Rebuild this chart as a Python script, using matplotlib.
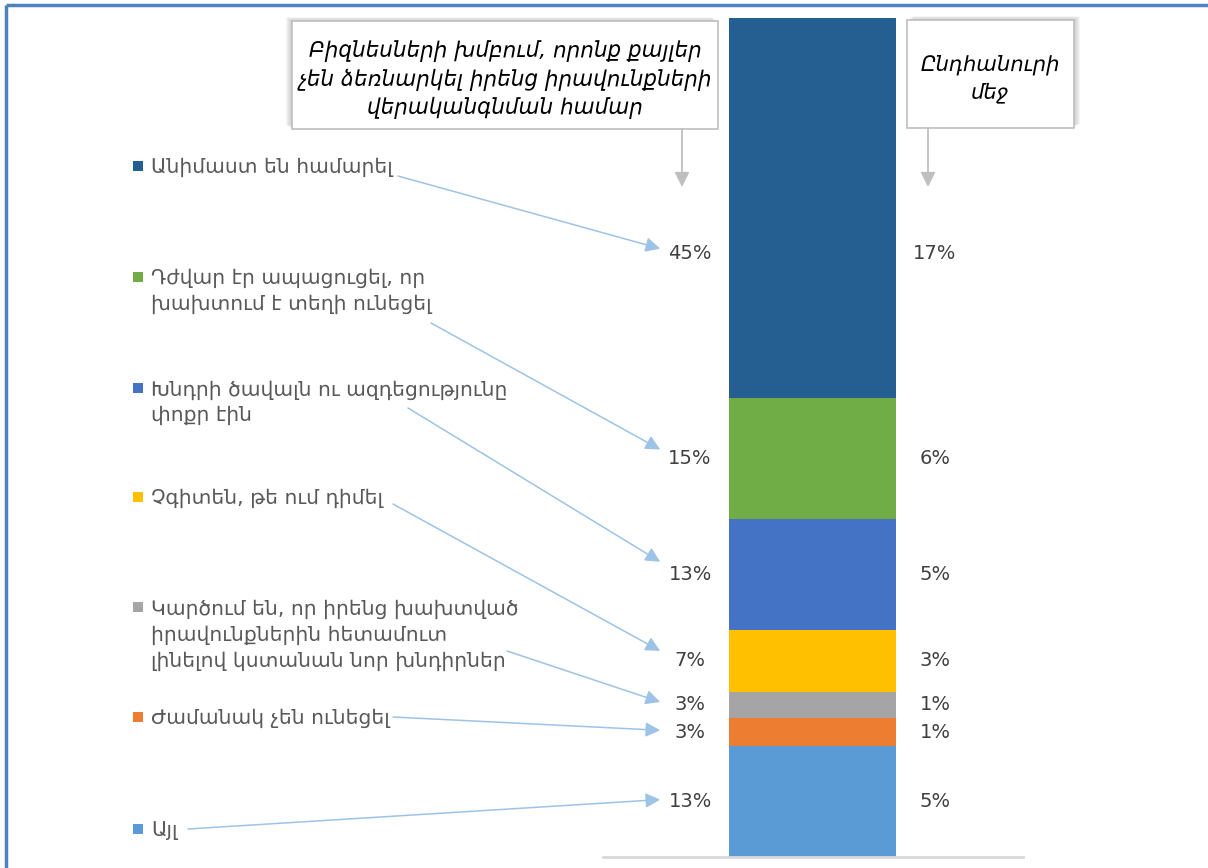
import matplotlib.pyplot as plt
from matplotlib.patches import Rectangle

plt.rcParams['font.family'] = ['DejaVu Sans']

# categories, listed top of the bar to bottom
reasons = [
    "Անիմաստ են համարել",
    "Դժվար էր ապացուցել, որ\nխախտում է տեղի ունեցել",
    "Խնդրի ծավալն ու ազդեցությունը\nփոքր էին",
    "Չգիտեն, թե ում դիմել",
    "Կարծում են, որ իրենց խախտված\nիրավունքներին հետամուտ\nլինելով կստանան նոր խնդիրներ",
    "Ժամանակ չեն ունեցել",
    "Այլ",
]
bar_share = [45.2, 14.5, 13.2, 7.3, 3.2, 3.3, 13.2]   # segment heights
pct_firms = [45, 15, 13, 7, 3, 3, 13]                 # left labels
pct_total = [17, 6, 5, 3, 1, 1, 5]                    # right labels
colors = ['#255E91', '#70AD47', '#4472C4', '#FFC000', '#A5A5A5', '#ED7D31', '#5B9BD5']

header_left = "Բիզնեսների խմբում, որոնք քայլեր\nչեն ձեռնարկել իրենց իրավունքների\nվերականգնման համար"
header_right = "Ընդհանուրի\nմեջ"

W, H = 1208, 868
fig = plt.figure(figsize=(W / 100, H / 100), dpi=100)

# the bar axes
ax = fig.add_axes([603 / W, 11 / H, 420 / W, 839 / H])
total = sum(bar_share)
ax.set_ylim(0, total)
ax.set_xlim(-1.2545, 1.2605)
for s in ['top', 'left', 'right']:
    ax.spines[s].set_visible(False)
ax.spines['bottom'].set_color('#D9D9D9')
ax.spines['bottom'].set_linewidth(2)
ax.set_xticks([])
ax.set_yticks([])

# stack from the bottom up
bottoms = []
b = 0
for v in bar_share[::-1]:
    bottoms.append(b)
    b += v
bottoms = bottoms[::-1]

nudge = [-33, 0, 0, 0, 0, 0, 0]   # label shift in points (first label sits lower)
for i, (v, bot) in enumerate(zip(bar_share, bottoms)):
    ax.bar(0, v, bottom=bot, width=1.0, color=colors[i], linewidth=0)
    mid = bot + v / 2
    ax.annotate(f"{pct_firms[i]}%", xy=(-0.733, mid), xytext=(0, nudge[i]),
                textcoords='offset points', ha='center', va='center',
                fontsize=14, color='#404040')
    ax.annotate(f"{pct_total[i]}%", xy=(0.733, mid), xytext=(0, nudge[i]),
                textcoords='offset points', ha='center', va='center',
                fontsize=14, color='#404040')

# overlay in pixel coordinates for the callouts
ov = fig.add_axes([0, 0, 1, 1], zorder=5)
ov.set_xlim(0, W)
ov.set_ylim(H, 0)
ov.axis('off')
ov.patch.set_alpha(0)

# blue frame edge
ov.plot([6, 6], [H, 5], color='#4F81BD', lw=2.5, solid_capstyle='butt')
ov.plot([6, W], [5, 5], color='#4F81BD', lw=2.5, solid_capstyle='butt')

label_y = [166, 277, 388, 497, 607, 717, 829]
line_start = [(398, 176), (431, 323), (408, 408), (393, 504), (507, 651), (393, 717), (188, 829)]
tip_dy = [-5, -9, -13, -10, -3, -2, -2]

fig.canvas.draw()
for i, txt in enumerate(reasons):
    y = label_y[i]
    ov.add_patch(Rectangle((133, y - 5), 10, 10, color=colors[i], lw=0))
    ov.text(151, y - 8, txt, ha='left', va='top', fontsize=14.6,
            color='#595959', linespacing=1.43)
    mid = bottoms[i] + bar_share[i] / 2
    X, Y = ax.transData.transform((-0.9, mid))
    tip = (X - 2, H - Y - nudge[i] * 100 / 72 + tip_dy[i])
    ov.annotate('', xy=tip, xytext=line_start[i],
                arrowprops=dict(arrowstyle='-|>', color='#9DC3E6', lw=1.1,
                                mutation_scale=22, shrinkA=0, shrinkB=0))


def header_box(x0, y0, w, h, text, cx, arrow_x, shadow_dx, fs, ls):
    for k in range(6, 0, -1):
        ov.add_patch(Rectangle((x0 + shadow_dx * k / 6, y0 - 4 * k / 6), w, h,
                               fc='#7F7F7F', ec='none', alpha=0.07))
    ov.add_patch(Rectangle((x0, y0), w, h, fc='white', ec='#BFBFBF', lw=1.2))
    ov.text(cx, y0 + h / 2 + 5, text, ha='center', va='center', fontsize=fs,
            style='italic', color='black', linespacing=ls)
    ov.annotate('', xy=(arrow_x, 187), xytext=(arrow_x, y0 + h),
                arrowprops=dict(arrowstyle='-|>', color='#BFBFBF', lw=1.3,
                                mutation_scale=22, shrinkA=0, shrinkB=0))


header_box(292, 21, 426, 108, header_left, 505, 682, -6, 15.5, 1.37)
header_box(907, 20, 167, 108, header_right, 990, 928, 6, 15.2, 1.45)

fig.savefig('out.png', dpi=100)
